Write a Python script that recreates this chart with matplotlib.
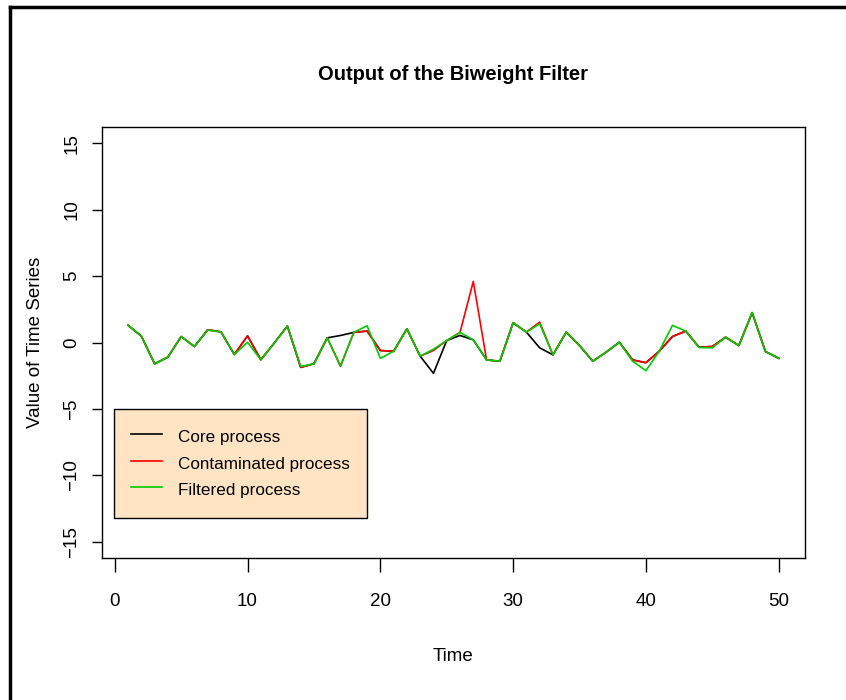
import matplotlib
matplotlib.use("Agg")
import matplotlib.pyplot as plt
from matplotlib.lines import Line2D

plt.rcParams["font.family"] = ["Liberation Sans", "DejaVu Sans"]

time = list(range(1, 51))
core = [1.3, 0.48, -1.6, -1.1, 0.45, -0.3, 0.96, 0.8, -0.9, 0.5,
        -1.3, -0.05, 1.24, -1.87, -1.6, 0.35, 0.53, 0.76, 0.86, -0.6,
        -0.66, 1.03, -1.03, -2.32, 0.15, 0.53, 0.2, -1.31, -1.41, 1.49,
        0.78, -0.4, -0.93, 0.78, -0.23, -1.41, -0.73, 0.02, -1.31, -1.52,
        -0.66, 0.45, 0.86, -0.35, -0.3, 0.4, -0.23, 2.25, -0.68, -1.19]
contaminated = [1.3, 0.48, -1.6, -1.1, 0.45, -0.3, 0.96, 0.8, -0.9, 0.5,
                -1.3, -0.05, 1.24, -1.87, -1.6, 0.35, -1.8, 0.76, 0.86, -0.6,
                -0.66, 1.03, -1.03, -0.6, 0.15, 0.76, 4.6, -1.31, -1.41, 1.49,
                0.78, 1.54, -0.93, 0.78, -0.23, -1.41, -0.73, 0.02, -1.31, -1.52,
                -0.66, 0.45, 0.86, -0.35, -0.3, 0.4, -0.23, 2.25, -0.68, -1.19]
filtered = [1.3, 0.48, -1.6, -1.1, 0.45, -0.3, 0.93, 0.8, -0.9, 0.02,
            -1.3, -0.05, 1.24, -1.8, -1.6, 0.35, -1.75, 0.76, 1.26, -1.19,
            -0.66, 1.03, -1.03, -0.5, 0.15, 0.76, 0.2, -1.31, -1.41, 1.49,
            0.78, 1.41, -0.93, 0.78, -0.23, -1.41, -0.73, 0.02, -1.41, -2.12,
            -0.66, 1.29, 0.86, -0.38, -0.4, 0.4, -0.23, 2.25, -0.68, -1.19]
labels = ["Core process", "Contaminated process", "Filtered process"]
colors = ["black", "#ff0000", "#00cc00"]

fig = plt.figure(figsize=(8.46, 7.0), dpi=100)
ax = fig.add_axes([0.1206, 0.2033, 0.8306, 0.6148])

for series, lab, col in zip([core, contaminated, filtered], labels, colors):
    ax.plot(time, series, color=col, lw=1.2, label=lab)

ax.set_xlim(-0.96, 51.96)
ax.set_ylim(-16.2, 16.2)
ax.set_xticks([0, 10, 20, 30, 40, 50])
ax.set_yticks([-15, -10, -5, 0, 5, 10, 15])
ax.tick_params(axis="x", length=10, width=1, labelsize=13.5, pad=15.5)
ax.tick_params(axis="y", length=7.5, width=1, labelsize=13.5, pad=8)
for t in ax.get_yticklabels():
    t.set_rotation(90)
    t.set_va("center")
for s in ax.spines.values():
    s.set_linewidth(1)

ax.set_title("Output of the Biweight Filter", fontsize=14.5, fontweight="bold", pad=34)
ax.set_xlabel("Time", fontsize=13.5)
ax.set_ylabel("Value of Time Series", fontsize=13.5)
ax.xaxis.set_label_coords(0.5, -0.21)
ax.yaxis.set_label_coords(-0.083, 0.5)

leg = ax.legend(loc="upper left", bbox_to_anchor=(0.0175, 0.3456), borderaxespad=0,
                fontsize=12.3, fancybox=False, framealpha=1, facecolor="#ffe4c4",
                edgecolor="black", handlelength=1.8, handletextpad=0.95,
                handleheight=1.55, labelspacing=0.3, borderpad=1.0)
leg.get_frame().set_linewidth(1)

# outer frame (only top and left edges visible)
fig.add_artist(Line2D([9.5 / 846, 9.5 / 846], [0, 1 - 6.5 / 700], color="black", lw=2.5,
                      transform=fig.transFigure, solid_capstyle="projecting"))
fig.add_artist(Line2D([9.5 / 846, 1], [1 - 6.5 / 700, 1 - 6.5 / 700], color="black", lw=2.5,
                      transform=fig.transFigure, solid_capstyle="projecting"))

fig.savefig("out.png", dpi=100)
